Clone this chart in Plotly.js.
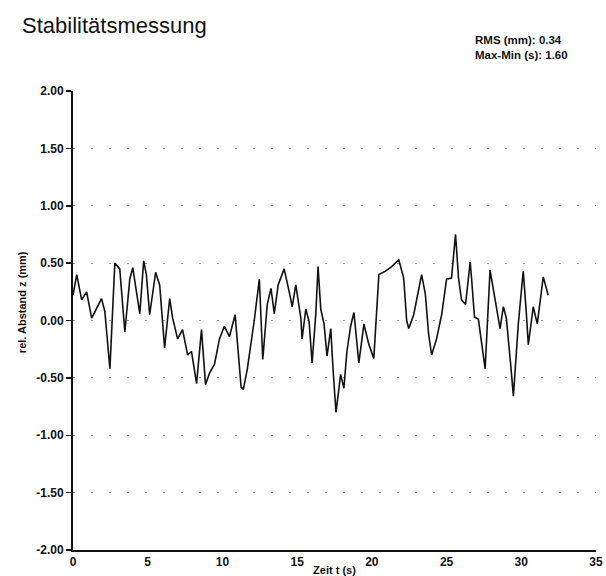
<!DOCTYPE html>
<html>
<head>
<meta charset="utf-8">
<script src="https://cdn.plot.ly/plotly-3.0.1.min.js"></script>
<style>html,body{margin:0;padding:0;background:#fff;}#chart{width:606px;height:576px;}</style>
</head>
<body>
<div id="chart"></div>
<script>
const timeS = [0.00,0.25,0.58,0.91,1.25,1.91,2.13,2.47,2.80,3.13,3.47,3.80,4.00,4.47,4.73,4.91,5.13,5.53,5.80,6.13,6.47,6.67,7.00,7.33,7.67,7.93,8.27,8.60,8.87,9.13,9.47,9.80,10.13,10.47,10.85,11.25,11.40,11.67,12.13,12.47,12.70,13.00,13.25,13.47,13.73,14.13,14.47,14.67,14.91,15.25,15.33,15.58,15.80,16.00,16.25,16.40,16.58,16.80,17.00,17.25,17.40,17.60,17.91,18.13,18.33,18.58,18.80,19.13,19.47,19.80,20.13,20.47,20.91,21.33,21.80,22.13,22.33,22.47,22.80,23.33,23.58,23.80,24.00,24.33,24.67,25.00,25.33,25.60,25.80,26.00,26.27,26.47,26.58,26.67,26.87,27.13,27.33,27.47,27.58,27.91,28.25,28.58,28.80,29.00,29.33,29.47,29.80,30.13,30.33,30.47,30.80,31.07,31.47,31.80];
const abstandMm = [0.22,0.40,0.18,0.25,0.02,0.19,0.08,-0.42,0.50,0.45,-0.10,0.36,0.46,0.06,0.52,0.40,0.05,0.42,0.31,-0.24,0.19,0.02,-0.16,-0.08,-0.30,-0.27,-0.55,-0.08,-0.56,-0.46,-0.38,-0.16,-0.05,-0.14,0.05,-0.58,-0.60,-0.42,0.00,0.36,-0.34,0.14,0.28,0.06,0.31,0.45,0.25,0.12,0.31,0.02,-0.16,0.10,-0.01,-0.37,0.06,0.47,0.10,-0.03,-0.31,-0.07,-0.42,-0.80,-0.47,-0.59,-0.27,-0.05,0.07,-0.37,-0.03,-0.21,-0.33,0.40,0.43,0.47,0.53,0.37,0.00,-0.07,0.05,0.40,0.23,-0.12,-0.30,-0.16,0.05,0.36,0.37,0.75,0.37,0.18,0.14,0.37,0.51,0.37,0.03,0.01,-0.18,-0.30,-0.42,0.44,0.19,-0.07,0.12,0.02,-0.44,-0.66,-0.03,0.43,0.08,-0.21,0.12,-0.03,0.38,0.22];
const xTicks = [0,5,10,15,20,25,30,35];
const yTicks = [-2,-1.5,-1,-0.5,0,0.5,1,1.5,2];
const yTickLabels = ["-2.00","-1.50","-1.00","-0.50","0.00","0.50","1.00","1.50","2.00"];
const titleText = "Stabilitätsmessung";
const statLines = ["RMS (mm): 0.34", "Max-Min (s): 1.60"];
const xTitle = "Zeit t (s)";
const yTitle = "rel. Abstand z (mm)";

const FONT = "Liberation Sans, Arial, sans-serif";

const trace = {
  x: timeS, y: abstandMm, type: "scatter", mode: "lines",
  line: {color: "#111", width: 1.6}, hoverinfo: "skip"
};

const layout = {
  width: 606, height: 576,
  margin: {l: 73, r: 10, t: 91, b: 26},
  paper_bgcolor: "#fff", plot_bgcolor: "#fff",
  showlegend: false,
  font: {family: FONT, color: "#111"},
  xaxis: {
    range: [0, 35], tickvals: xTicks, ticktext: xTicks.map(String),
    showgrid: false, zeroline: false,
    showline: true, linecolor: "#111", linewidth: 2,
    ticks: "", tickfont: {size: 12, family: FONT, weight: "bold"},
    title: {text: "<b>" + xTitle + "</b>", font: {size: 11, family: FONT}, standoff: 0}
  },
  yaxis: {
    range: [-2, 2], tickvals: yTicks, ticktext: yTickLabels,
    showgrid: true, gridcolor: "#999", gridwidth: 1, griddash: "2px,16px",
    zeroline: false,
    showline: true, linecolor: "#111", linewidth: 2,
    ticks: "outside", ticklen: 5, tickcolor: "#111", tickwidth: 1.5,
    tickfont: {size: 12, family: FONT, weight: "bold"}
  },
  annotations: [
    {xref: "paper", yref: "paper", x: 0, y: 1, xshift: -53, yshift: 80, xanchor: "left", yanchor: "top",
     text: titleText, showarrow: false, font: {size: 22, family: FONT, color: "#111"}},
    {xref: "paper", yref: "paper", x: 1, y: 1, xshift: -26, yshift: 59, xanchor: "right", yanchor: "top",
     align: "left", text: "<b>" + statLines.join("<br>") + "</b>", showarrow: false,
     font: {size: 11.5, family: FONT, color: "#111"}},
    {xref: "paper", yref: "paper", x: 0, y: 0.54, xshift: -51, xanchor: "center", yanchor: "middle",
     textangle: -90, text: "<b>" + yTitle + "</b>", showarrow: false,
     font: {size: 11, family: FONT, color: "#111"}}
  ]
};

Plotly.newPlot("chart", [trace], layout, {staticPlot: true, displayModeBar: false});
</script>
</body>
</html>
